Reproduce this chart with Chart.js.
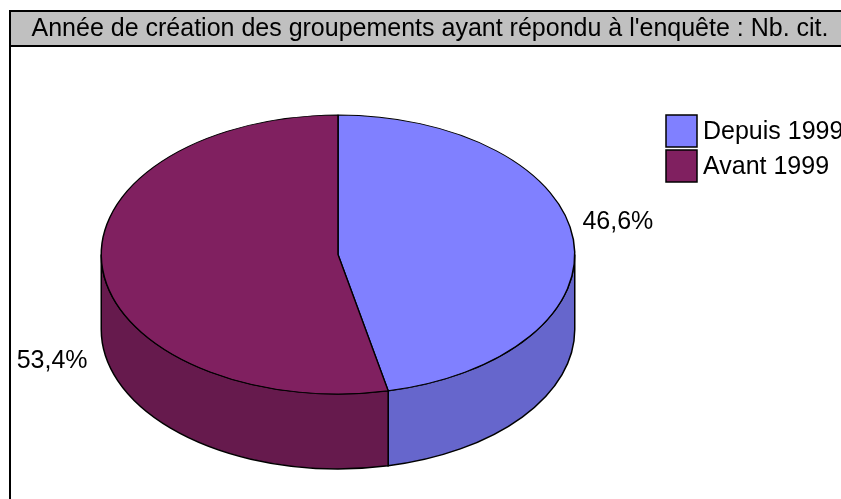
<!DOCTYPE html>
<html>
<head>
<meta charset="utf-8">
<script src="https://cdn.jsdelivr.net/npm/chart.js"></script>
<style>
  html, body { margin: 0; padding: 0; background: #fff; }
  canvas { display: block; }
</style>
</head>
<body>
<canvas id="pie" width="841" height="499"></canvas>
<script>
// Données du graphique
const title = "Année de création des groupements ayant répondu à l'enquête : Nb. cit.";
const categories = ['Depuis 1999', 'Avant 1999'];
const counts = [48, 55];   // lu : 46,6% / 53,4%

// couleurs : dessus et côté (plus sombre)
const topColors = ['#8080FF', '#802060'];
const sideColors = ['#6666CC', '#661A4D'];

const TILT = 0.589;   // ellipse ry / rx
const DEPTH = 75;     // épaisseur du camembert
const FONT = '"Liberation Sans", Arial, sans-serif';

const total = counts.reduce((a, b) => a + b, 0);
const pct = v => (v / total * 100).toFixed(1).replace('.', ',') + '%';

const pie3d = {
    id: 'pie3d',
    beforeDraw(chart) {
        const ctx = chart.ctx;
        ctx.save();
        ctx.fillStyle = '#fff';
        ctx.fillRect(0, 0, chart.width, chart.height);
        // bandeau de titre
        ctx.fillStyle = '#C0C0C0';
        ctx.fillRect(10, 11, chart.width, 35);
        ctx.strokeStyle = '#000';
        ctx.lineWidth = 2;
        ctx.strokeRect(10, 11, chart.width, 35);
        ctx.beginPath();
        ctx.moveTo(10, 11);
        ctx.lineTo(10, chart.height);
        ctx.stroke();
        ctx.fillStyle = '#000';
        ctx.font = '25px ' + FONT;
        ctx.textAlign = 'center';
        ctx.textBaseline = 'middle';
        ctx.fillText(title, 430, 29);
        ctx.restore();
    },
    beforeDatasetsDraw(chart) {
        const ctx = chart.ctx;
        const arcs = chart.getDatasetMeta(0).data;
        const cx = arcs[0].x, cy = arcs[0].y, r = arcs[0].outerRadius;
        const ry = r * TILT;
        // parois visibles (moitié avant)
        ctx.save();
        ctx.strokeStyle = '#000';
        ctx.lineWidth = 1.5;
        arcs.forEach((arc, i) => {
            [0, 2 * Math.PI, -2 * Math.PI].forEach(off => {
                const a = Math.max(arc.startAngle + off, 0);
                const b = Math.min(arc.endAngle + off, Math.PI);
                if (b <= a) return;
                ctx.beginPath();
                ctx.ellipse(cx, cy, r, ry, 0, a, b);
                ctx.lineTo(cx + r * Math.cos(b), cy + ry * Math.sin(b) + DEPTH);
                ctx.ellipse(cx, cy + DEPTH, r, ry, 0, b, a, true);
                ctx.closePath();
                ctx.fillStyle = sideColors[i];
                ctx.fill();
                ctx.stroke();
            });
        });
        ctx.restore();
        // écrasement vertical du disque
        ctx.save();
        ctx.translate(0, cy);
        ctx.scale(1, TILT);
        ctx.translate(0, -cy);
    },
    afterDatasetsDraw(chart) {
        const ctx = chart.ctx;
        ctx.restore();
        const arcs = chart.getDatasetMeta(0).data;
        ctx.save();
        ctx.fillStyle = '#000';
        ctx.font = '25px ' + FONT;
        ctx.textBaseline = 'middle';
        // étiquettes de pourcentage
        arcs.forEach((arc, i) => {
            const m = (arc.startAngle + arc.endAngle) / 2;
            const r = arc.outerRadius, ry = r * TILT;
            const px = arc.x + r * Math.cos(m);
            const py = arc.y + ry * Math.sin(m);
            const right = Math.cos(m) >= 0;
            ctx.textAlign = right ? 'left' : 'right';
            const y = Math.sin(m) > 0 ? py + DEPTH + 17 : py - 18;
            ctx.fillText(pct(counts[i]), px + (right ? 9 : -15), y);
        });
        // légende
        ctx.textAlign = 'left';
        categories.forEach((c, i) => {
            const y = 115 + i * 35;
            ctx.fillStyle = topColors[i];
            ctx.fillRect(666, y, 31, 32);
            ctx.strokeStyle = '#000';
            ctx.lineWidth = 1.5;
            ctx.strokeRect(666, y, 31, 32);
            ctx.fillStyle = '#000';
            ctx.fillText(c, 703, y + 17);
        });
        ctx.restore();
    }
};

new Chart(document.getElementById('pie'), {
    type: 'pie',
    data: {
        labels: categories,
        datasets: [{
            data: counts,
            backgroundColor: topColors,
            borderColor: '#000',
            borderWidth: 1.5
        }]
    },
    options: {
        responsive: false,
        animation: false,
        events: [],
        layout: { padding: { top: 17, bottom: 7, left: 100, right: 265 } },
        plugins: {
            legend: { display: false },
            tooltip: { enabled: false }
        }
    },
    plugins: [pie3d]
});
</script>
</body>
</html>
